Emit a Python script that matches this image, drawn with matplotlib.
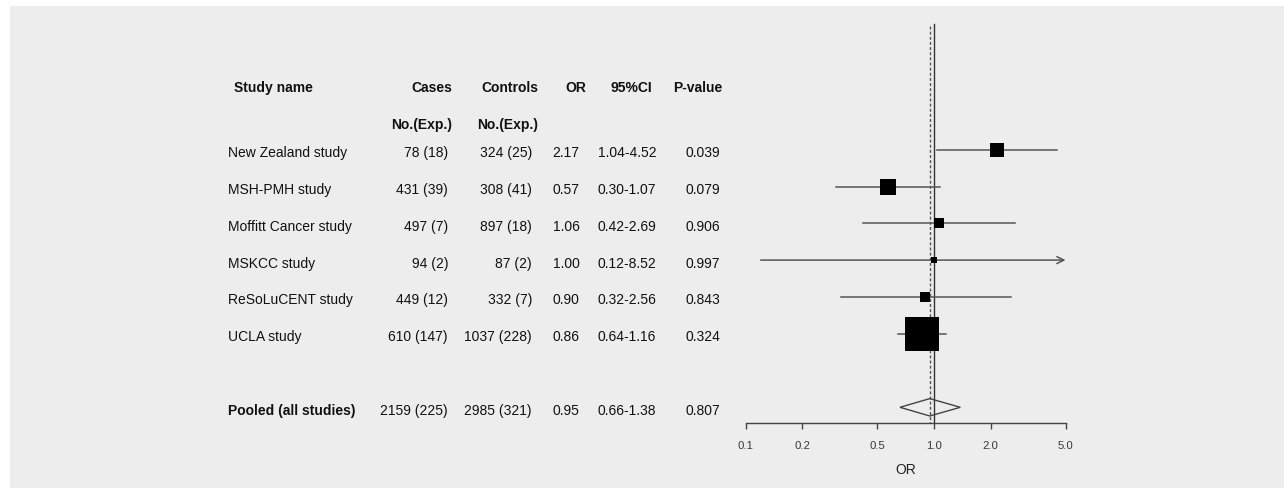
import numpy as np
import matplotlib
matplotlib.use('Agg')
import matplotlib.pyplot as plt
from matplotlib.patches import Polygon, Rectangle
from matplotlib.ticker import NullLocator, FixedLocator, FixedFormatter

# ---------------- data ----------------
studies = ["New Zealand study", "MSH-PMH study", "Moffitt Cancer study",
           "MSKCC study", "ReSoLuCENT study", "UCLA study"]
cases = ["78 (18)", "431 (39)", "497 (7)", "94 (2)", "449 (12)", "610 (147)"]
controls = ["324 (25)", "308 (41)", "897 (18)", "87 (2)", "332 (7)", "1037 (228)"]
odds = [2.17, 0.57, 1.06, 1.00, 0.90, 0.86]
ci_low = [1.04, 0.30, 0.42, 0.12, 0.32, 0.64]
ci_high = [4.52, 1.07, 2.69, 8.52, 2.56, 1.16]
pvals = ["0.039", "0.079", "0.906", "0.997", "0.843", "0.324"]

pooled_label = "Pooled (all studies)"
pooled_cases = "2159 (225)"
pooled_controls = "2985 (321)"
pooled_or = 0.95
pooled_low = 0.66
pooled_high = 1.38
pooled_p = "0.807"

tick_values = [0.1, 0.2, 0.5, 1.0, 2.0, 5.0]
tick_labels = ["0.1", "0.2", "0.5", "1.0", "2.0", "5.0"]

# ---------------- layout ----------------
W, H = 1284, 489
FONT = "Liberation Sans"
plt.rcParams['font.family'] = [FONT, 'DejaVu Sans']

fig = plt.figure(figsize=(W / 100, H / 100), dpi=100)
fig.patch.set_facecolor('white')

tax = fig.add_axes([0, 0, 1, 1])
tax.set_xlim(0, W)
tax.set_ylim(H, 0)
tax.axis('off')
tax.patch.set_visible(False)
tax.add_patch(Rectangle((10, 7), W - 10, H - 7, facecolor='#ededed',
                        edgecolor='none', zorder=0))

x0_px, x1_px = 745.8, 1065.5
fax = fig.add_axes([x0_px / W, 0, (x1_px - x0_px) / W, 1])
fax.patch.set_visible(False)
fax.set_xscale('log')
fax.set_xlim(tick_values[0], tick_values[-1])
fax.set_ylim(H, 0)

row0, dy = 150.7, 36.8
def row_y(i):
    return row0 + dy * i

axis_y = 423.5
pooled_y = row_y(7)

# axis
for s in ['top', 'left', 'right']:
    fax.spines[s].set_visible(False)
fax.spines['bottom'].set_position(('data', axis_y))
fax.spines['bottom'].set_color('#444444')
fax.spines['bottom'].set_linewidth(1.0)
fax.xaxis.set_major_locator(FixedLocator(tick_values))
fax.xaxis.set_major_formatter(FixedFormatter(tick_labels))
fax.xaxis.set_minor_locator(NullLocator())
fax.set_yticks([])
fax.tick_params(axis='x', direction='out', length=4.3, width=1.0, color='#444444',
                labelsize=8.2, labelcolor='#383838', pad=8)

# reference lines
fax.plot([1.0, 1.0], [25, axis_y], color='#333333', lw=1.0, zorder=2)
fax.plot([pooled_or, pooled_or], [27, axis_y], color='#555555', lw=1.0,
         ls=(0, (2.2, 1.5)), zorder=2)

# study CIs and boxes
xmax = tick_values[-1]
se = [(np.log(h) - np.log(l)) / 3.92 for l, h in zip(ci_low, ci_high)]
weights = [1 / s ** 2 for s in se]
for i, (o, l, h, w) in enumerate(zip(odds, ci_low, ci_high, weights)):
    y = row_y(i)
    if h > xmax:
        fax.annotate('', xy=(xmax, y), xytext=(l, y),
                     arrowprops=dict(arrowstyle='->,head_length=0.5,head_width=0.25',
                                     color='#555555', lw=1.1, shrinkA=0, shrinkB=0),
                     zorder=2)
    else:
        fax.plot([l, h], [y, y], color='#555555', lw=1.1, zorder=2)
    side_px = max(5.2 * np.sqrt(w), 6.0)
    fax.scatter([o], [y], s=(side_px * 0.72) ** 2, marker='s', color='black',
                linewidths=0, zorder=3)

# pooled diamond
hh = 8.7
fax.add_patch(Polygon([(pooled_low, pooled_y), (pooled_or, pooled_y - hh),
                       (pooled_high, pooled_y), (pooled_or, pooled_y + hh)],
                      closed=True, fill=False, edgecolor='#444444', lw=1.0, zorder=3))

# OR label
tax.text(906, 470, "OR", ha='center', va='center', fontsize=10, color='#222222')

# table text
tc = '#111111'
fs = 10
hy1, hy2 = 86.5, 124
tax.text(234, hy1, "Study name", ha='left', va='center_baseline', fontsize=fs, fontweight='bold', color=tc)
tax.text(452, hy1, "Cases", ha='right', va='center_baseline', fontsize=fs, fontweight='bold', color=tc)
tax.text(538, hy1, "Controls", ha='right', va='center_baseline', fontsize=fs, fontweight='bold', color=tc)
tax.text(576, hy1, "OR", ha='center', va='center_baseline', fontsize=fs, fontweight='bold', color=tc)
tax.text(631, hy1, "95%CI", ha='center', va='center_baseline', fontsize=fs, fontweight='bold', color=tc)
tax.text(698, hy1, "P-value", ha='center', va='center_baseline', fontsize=fs, fontweight='bold', color=tc)
tax.text(452, hy2, "No.(Exp.)", ha='right', va='center_baseline', fontsize=fs, fontweight='bold', color=tc)
tax.text(538, hy2, "No.(Exp.)", ha='right', va='center_baseline', fontsize=fs, fontweight='bold', color=tc)

def row_text(y, name, ca, co, o, l, h, p, bold=False):
    tax.text(228, y, name, ha='left', va='center_baseline', fontsize=fs,
             fontweight='bold' if bold else 'normal', color=tc)
    tax.text(448, y, ca, ha='right', va='center_baseline', fontsize=fs, color=tc)
    tax.text(532, y, co, ha='right', va='center_baseline', fontsize=fs, color=tc)
    tax.text(566, y, f"{o:.2f}", ha='center', va='center_baseline', fontsize=fs, color=tc)
    tax.text(627, y, f"{l:.2f}-{h:.2f}", ha='center', va='center_baseline', fontsize=fs, color=tc)
    tax.text(702.5, y, p, ha='center', va='center_baseline', fontsize=fs, color=tc)

for i in range(len(studies)):
    row_text(row_y(i) + 1, studies[i], cases[i], controls[i], odds[i],
             ci_low[i], ci_high[i], pvals[i])
row_text(pooled_y + 1, pooled_label, pooled_cases, pooled_controls, pooled_or,
         pooled_low, pooled_high, pooled_p, bold=True)

fig.savefig('out.png', dpi=100, facecolor=fig.get_facecolor())
